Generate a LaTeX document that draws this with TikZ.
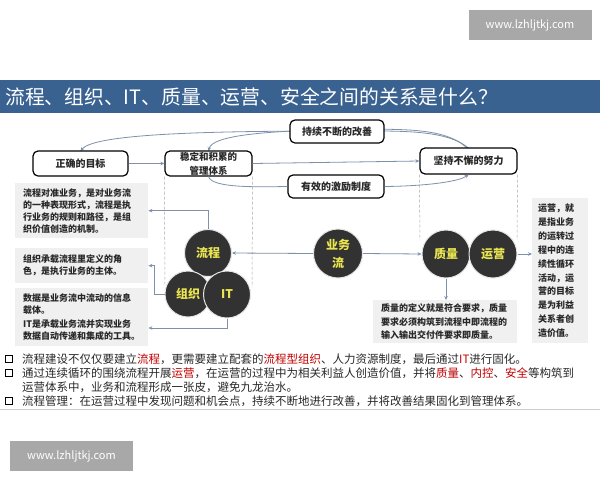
\documentclass[tikz,border=0pt]{standalone}
\usepackage{fontspec}
\setmainfont{Noto Sans CJK SC}
\usetikzlibrary{arrows.meta,calc}
\definecolor{banner}{RGB}{58,98,145}
\definecolor{conn}{RGB}{125,145,170}
\definecolor{darkc}{RGB}{50,50,50}
\definecolor{yel}{RGB}{235,230,80}
\definecolor{gbg}{RGB}{240,240,240}
\definecolor{wm}{RGB}{168,168,168}
\definecolor{hl}{RGB}{192,0,0}
\definecolor{txt}{RGB}{40,40,40}
\tikzset{
  rbox/.style={draw=black, line width=1.2pt, rounded corners=5pt, fill=white, inner sep=0pt, font=\bfseries\fontsize{10}{12}\selectfont, text=txt},
  gbox/.style={fill=gbg, draw=none, inner xsep=8pt, inner ysep=0pt, align=left, text=txt, anchor=north west, font=\bfseries\fontsize{9}{12}\selectfont},
  ball/.style={circle, fill=darkc, draw=white!80!gray, line width=1pt, inner sep=0pt, text=yel, align=center, font=\bfseries\fontsize{12}{18}\selectfont},
  conn/.style={draw=conn, line width=0.8pt, -{Stealth[length=4pt,width=3.5pt]}},
  plainconn/.style={draw=conn, line width=0.8pt},
  vdash/.style={draw=gray!70, line width=0.5pt, densely dashed},
  webbox/.style={fill=wm, text=white, inner sep=0pt, minimum width=123pt, minimum height=30pt, font=\fontsize{11}{13}\selectfont},
  sq/.style={draw=black, line width=1.3pt, minimum size=7pt, inner sep=0pt},
  btxt/.style={anchor=west, inner sep=0pt, text=txt, font=\fontsize{11.5}{14}\selectfont}
}
\begin{document}
\begin{tikzpicture}[x=1pt,y=-1pt]
\useasboundingbox (0,0) rectangle (600,480);
\fill[white] (0,0) rectangle (600,480);
% web boxes
\node[webbox] (web1) at (530,25) {www.lzhljtkj.com};
\node[webbox] (web2) at (71.5,456) {www.lzhljtkj.com};
% title banner
\fill[banner] (0,80) rectangle (600,113);
\node[anchor=west, text=white, inner sep=0pt, font=\fontsize{19.8}{22}\selectfont] (title) at (5,96.5) {流程、组织、IT、质量、运营、安全之间的关系是什么？};
% curves behind boxes
\draw[conn] (468.5,148) .. controls (445,129) and (400,131) .. (340,131) .. controls (220,131) and (95,133) .. (80.5,151);
\draw[conn] (467,148) .. controls (445,127) and (400,129) .. (340,129.5) .. controls (260,131) and (212,136) .. (208.5,151);
% boxes
\node[rbox, minimum width=95pt, minimum height=25pt] (zq) at (80.5,163.5) {正确的目标};
\node[rbox, minimum width=87pt, minimum height=25pt, align=center, font=\bfseries\fontsize{9.5}{14}\selectfont] (wd) at (208.5,163.5) {稳定和积累的\\管理体系};
\node[rbox, minimum width=94pt, minimum height=23pt] (cx) at (337,131.5) {持续不断的改善};
\node[rbox, minimum width=96pt, minimum height=23pt] (yx) at (336,186.5) {有效的激励制度};
\node[rbox, minimum width=97pt, minimum height=26pt] (jc) at (468.5,161) {坚持不懈的努力};
\draw[conn] (zq.east) -- (wd.west);
\draw[conn] (wd.east) -- (jc.west);
\draw[plainconn] (wd.south) .. controls (212,188) and (255,187) .. (yx.west);
\draw[conn] (yx.east) .. controls (430,186) and (460,181) .. (jc.south);
% dashed verticals
\coordinate (d1) at (165,285);
\coordinate (d2) at (252,287);
\coordinate (d3) at (420,240);
\coordinate (d4) at (517,240);
\draw[vdash] (wd.south west) -- (d1);
\draw[vdash] (wd.south east) -- (d2);
\draw[vdash] (jc.south west) -- (d3);
\draw[vdash] (jc.south east) -- (d4);
% left grey boxes
\node[gbox, minimum width=133pt, minimum height=55pt, text width=117pt] (b1) at (15,183) {流程对准业务，是对业务流\\的一种表现形式，流程是执\\行业务的规则和路径，是组\\织价值创造的机制。};
\node[gbox, minimum width=133pt, minimum height=35pt, text width=117pt] (b2) at (15,248) {组织承载流程里定义的角\\色，是执行业务的主体。};
\node[gbox, minimum width=133pt, minimum height=58pt, text width=117pt] (b3) at (15,288) {数据是业务流中流动的信息\\载体。\\[2pt]IT是承载业务流并实现业务\\数据自动传递和集成的工具。};
% right boxes
\node[gbox, inner xsep=6pt, minimum width=56pt, minimum height=145pt, text width=44pt, font=\bfseries\fontsize{9}{13.9}\selectfont] (rb) at (532,198) {运营，就\\是指业务\\的运转过\\程中的连\\续性循环\\活动，运\\营的目标\\是为利益\\关系者创\\造价值。};
\node[gbox, minimum width=144pt, minimum height=43pt, text width=128pt, font=\bfseries\fontsize{9}{13.5}\selectfont] (qb) at (373,300) {质量的定义就是符合要求，质量\\要求必须构筑到流程中即流程的\\输入输出交付件要求即质量。};
% circles
\node[ball, minimum size=47pt] (lc) at (208,253) {流程};
\node[ball, minimum size=46pt] (zz) at (188,294) {组织};
\node[ball, minimum size=47pt] (it) at (227,294.5) {IT};
\node[ball, minimum size=49pt] (yw) at (338,253.5) {业务\\流};
\node[ball, minimum size=48pt] (zl) at (446,254) {质量};
\node[ball, minimum size=48pt] (yy) at (493,254) {运营};
% connectors from circles
\draw[conn] (yw.west) -- (lc.east);
\draw[conn] (yw.east) -- (zl.west);
\draw[conn] (yy.east) -- (yy.east -| rb.west);
\draw[conn] (zl.south) -- (zl.south |- qb.north);
\draw[conn] (lc.north) |- (b1.east);
\draw[conn] (zz.west) -- ++(-10,0) |- (b2.east);
\coordinate (itc) at (227,328);
\draw[conn] (it.south) -- (itc) -- (itc -| b3.east);
% separator
\draw[gray!40, line width=0.6pt] (0,409) -- (600,409);
% bullets
\node[sq] (s1) at (9,359) {};
\node[sq] (s2) at (9,373) {};
\node[sq] (s3) at (9,401) {};
\node[btxt] (t1) at (22,359) {流程建设不仅仅要建立\textcolor{hl}{流程}，更需要建立配套的\textcolor{hl}{流程型组织}、人力资源制度，最后通过\textcolor{hl}{IT}进行固化。};
\node[btxt] (t2) at (22,373) {通过连续循环的围绕流程开展\textcolor{hl}{运营}，在运营的过程中为相关利益人创造价值，并将\textcolor{hl}{质量}、\textcolor{hl}{内控}、\textcolor{hl}{安全}等构筑到};
\node[btxt] (t2b) at (22,387) {运营体系中，业务和流程形成一张皮，避免九龙治水。};
\node[btxt] (t3) at (22,401) {流程管理：在运营过程中发现问题和机会点，持续不断地进行改善，并将改善结果固化到管理体系。};
\end{tikzpicture}
\end{document}
